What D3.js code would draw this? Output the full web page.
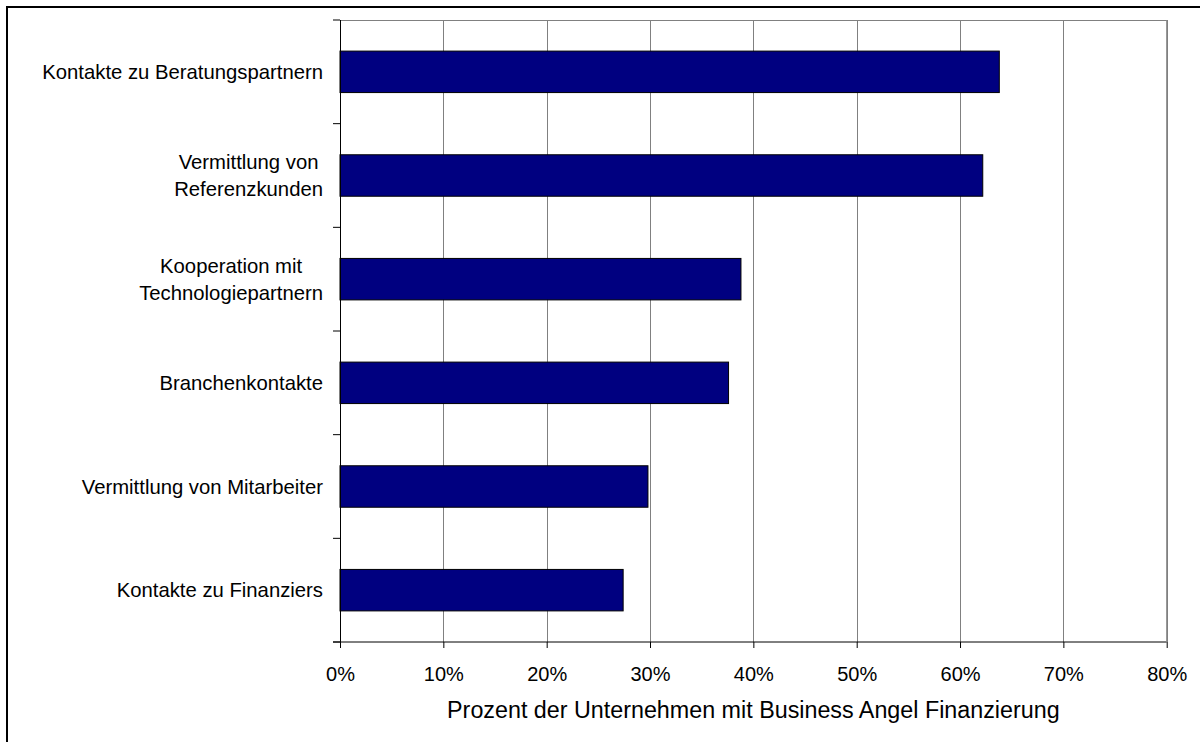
<!DOCTYPE html>
<html>
<head>
<meta charset="utf-8">
<script src="https://cdn.jsdelivr.net/npm/d3@7"></script>
<style>
  html, body { margin: 0; padding: 0; background: #fff; }
  svg { display: block; }
</style>
</head>
<body>
<div id="chart"></div>
<script>
// Data
const categories = [
  ["Kontakte zu Beratungspartnern"],
  ["Vermittlung von", "Referenzkunden"],
  ["Kooperation mit", "Technologiepartnern"],
  ["Branchenkontakte"],
  ["Vermittlung von Mitarbeiter"],
  ["Kontakte zu Finanziers"]
];
const shares = [0.638, 0.622, 0.388, 0.376, 0.298, 0.274];
const xTicks = [0, 0.1, 0.2, 0.3, 0.4, 0.5, 0.6, 0.7, 0.8];
const xTitle = "Prozent der Unternehmen mit Business Angel Finanzierung";

const width = 1200, height = 742;
const margin = { top: 20, right: 33.3, bottom: 100, left: 340 };
const innerWidth = width - margin.left - margin.right;
const innerHeight = height - margin.top - margin.bottom;
const font = "'Liberation Sans', Arial, sans-serif";

const data = categories.map((c, i) => ({ lines: c, value: shares[i], key: c.join(" ") }));

const svg = d3.select("#chart")
  .append("svg")
    .attr("width", width)
    .attr("height", height)
    .attr("viewBox", `0 0 ${width} ${height}`)
    .attr("font-family", font);

// outer frame of the chart area: only top and left edges are on the page
svg.append("path")
  .attr("d", `M7,${height} V7 H${width}`)
  .attr("fill", "none")
  .attr("stroke", "#000")
  .attr("stroke-width", 2);

const inner = svg.append("g")
  .attr("transform", `translate(${margin.left}, ${margin.top})`);

// scales
const xScale = d3.scaleLinear()
  .domain([0, 0.8])
  .range([0, innerWidth]);

const yScale = d3.scaleBand()
  .domain(data.map(d => d.key))
  .range([0, innerHeight])
  .paddingInner(0.6)
  .paddingOuter(0.3);

// gridlines
inner.selectAll(".grid")
  .data(xTicks.slice(1))
  .join("line")
    .attr("class", "grid")
    .attr("x1", d => Math.round(xScale(d)) + 0.5)
    .attr("x2", d => Math.round(xScale(d)) + 0.5)
    .attr("y1", 0)
    .attr("y2", innerHeight)
    .attr("stroke", "#808080")
    .attr("stroke-width", 1);

// top border of the plot area
inner.append("line")
  .attr("x1", 0)
  .attr("x2", innerWidth)
  .attr("y1", 0.5)
  .attr("y2", 0.5)
  .attr("stroke", "#808080");

// bars
inner.selectAll(".bar")
  .data(data)
  .join("rect")
    .attr("class", "bar")
    .attr("x", 0)
    .attr("y", d => yScale(d.key))
    .attr("width", d => xScale(d.value))
    .attr("height", yScale.bandwidth())
    .attr("fill", "#000080")
    .attr("stroke", "#000")
    .attr("stroke-width", 1);

// x axis
const bottomAxis = d3.axisBottom(xScale)
  .tickValues(xTicks)
  .tickFormat(d3.format(".0%"))
  .tickSize(6)
  .tickPadding(0)
  .tickSizeOuter(0);

const xAxis = inner.append("g")
  .attr("transform", `translate(0, ${innerHeight})`)
  .call(bottomAxis)
  .attr("font-family", font)
  .attr("font-size", 20);
xAxis.select(".domain").remove();
xAxis.selectAll(".tick line").attr("stroke", "#000");
xAxis.selectAll(".tick text")
  .attr("y", 39)
  .attr("dy", 0)
  .attr("fill", "#000");

// y axis: ticks sit at the band boundaries
const boundaries = d3.range(categories.length + 1).map(i => i * innerHeight / categories.length);
inner.selectAll(".ytick")
  .data(boundaries)
  .join("line")
    .attr("class", "ytick")
    .attr("x1", -7)
    .attr("x2", 0)
    .attr("y1", d => d)
    .attr("y2", d => d)
    .attr("stroke", "#000");

// axis lines
inner.append("line")
  .attr("x1", 0.5).attr("x2", 0.5)
  .attr("y1", 0).attr("y2", innerHeight)
  .attr("stroke", "#000");
inner.append("line")
  .attr("x1", -7).attr("x2", innerWidth)
  .attr("y1", innerHeight).attr("y2", innerHeight)
  .attr("stroke", "#000");

// right border of the plot area
inner.append("line")
  .attr("x1", innerWidth).attr("x2", innerWidth)
  .attr("y1", 0).attr("y2", innerHeight)
  .attr("stroke", "#808080");

// category labels, multi-line blocks centred on each other
const labelRight = margin.left - 17;
const lineGap = 27;
const labels = svg.append("g").attr("class", "labels").attr("font-size", 20.3);
data.forEach(d => {
  const cy = margin.top + yScale(d.key) + yScale.bandwidth() / 2;
  const texts = d.lines.map((line, i) =>
    labels.append("text")
      .text(line)
      .attr("y", cy + (i - (d.lines.length - 1) / 2) * lineGap)
      .attr("dy", "0.35em")
  );
  const maxW = d3.max(texts, t => t.node().getComputedTextLength());
  texts.forEach(t => t
    .attr("text-anchor", "middle")
    .attr("x", labelRight - maxW / 2));
});

// x axis title
svg.append("text")
  .text(xTitle)
  .attr("text-anchor", "middle")
  .attr("x", margin.left + innerWidth / 2)
  .attr("y", 718)
  .attr("font-size", 23.3);
</script>
</body>
</html>
